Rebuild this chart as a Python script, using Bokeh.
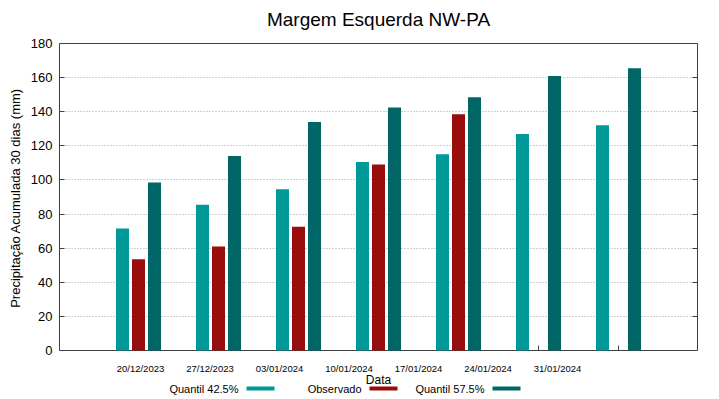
from bokeh.plotting import figure
from bokeh.models import (ColumnDataSource, Range1d, LinearAxis, FixedTicker,
                          Label, BoxAnnotation, CustomLabelingPolicy)
from bokeh.transform import dodge
from bokeh.embed import file_html
from bokeh.resources import INLINE

# ---- data ----
title_text = "Margem Esquerda NW-PA"
dates = ["20/12/2023", "27/12/2023", "03/01/2024", "10/01/2024",
         "17/01/2024", "24/01/2024", "31/01/2024"]
quantil_425 = [71.5, 85.5, 94.5, 110.5, 115.0, 127.0, 132.0]
observado = [53.5, 61.0, 72.5, 109.0, 138.5, float("nan"), float("nan")]
quantil_575 = [98.5, 114.0, 134.0, 142.5, 148.5, 161.0, 165.5]
series_names = ["Quantil 42.5%", "Observado", "Quantil 57.5%"]
colors = ["#009999", "#990d0d", "#006666"]
y_ticks = list(range(0, 181, 20))

FONT = "Liberation Sans"
AX = "#404040"
idx = list(range(len(dates)))
src = ColumnDataSource(dict(idx=idx, q425=quantil_425, obs=observado, q575=quantil_575))

# The frame covers the whole canvas height; the 0..180 data box sits inside it,
# with title above and tick labels / axis title / legend below.
FH = 395
p = figure(frame_width=638, frame_height=FH,
           min_border_left=59, min_border_right=6,
           min_border_top=0, min_border_bottom=0,
           x_range=Range1d(-0.9875, 6.9875), y_range=Range1d(-26.38, 205.21),
           output_backend="svg", toolbar_location=None)
p.extra_x_ranges = {"lab": Range1d(-1.165, 8.014)}

p.outline_line_color = None
p.xgrid.grid_line_color = None
p.ygrid.grid_line_color = "#a0a0a0"
p.ygrid.grid_line_dash = "1 2"
p.ygrid.ticker = FixedTicker(ticks=y_ticks[1:-1])


def no_labels():
    return CustomLabelingPolicy(code="for (const i of indices) { if (false) yield i }")


xa = p.below[0]   # default x axis
ya = p.left[0]    # default y axis

# left y axis
ya.ticker = FixedTicker(ticks=y_ticks)
ya.bounds = (0, 180)
ya.axis_line_color = AX
ya.major_tick_in = 5
ya.major_tick_out = 0
ya.minor_tick_line_color = None
ya.major_tick_line_color = AX
ya.major_label_standoff = 7
ya.major_label_text_font = FONT
ya.major_label_text_font_size = "13px"
ya.major_label_text_color = "black"
ya.axis_label = "Precipitação Acumulada 30 dias (mm)"
ya.axis_label_text_font = FONT
ya.axis_label_text_font_size = "13px"
ya.axis_label_text_font_style = "normal"
ya.axis_label_text_color = "black"
ya.axis_label_standoff = 5

# right y axis (mirror ticks)
yr = LinearAxis(ticker=FixedTicker(ticks=y_ticks), bounds=(0, 180),
                major_label_policy=no_labels())
yr.axis_line_color = AX
yr.major_tick_in = 5
yr.major_tick_out = 0
yr.minor_tick_line_color = None
yr.major_tick_line_color = AX
yr.major_label_standoff = 0
yr.major_label_text_font_size = "0px"
p.add_layout(yr, "right")

# top border line at y=180
xt = LinearAxis(ticker=FixedTicker(ticks=[]), major_label_policy=no_labels(),
                fixed_location=180)
xt.axis_line_color = AX
xt.major_tick_in = 0
xt.major_tick_out = 0
xt.minor_tick_line_color = None
xt.major_label_standoff = 0
xt.major_label_text_font_size = "0px"
p.add_layout(xt, "above")

# main x axis at y=0: ticks only at group centers
xa.fixed_location = 0
xa.ticker = FixedTicker(ticks=idx)
xa.major_label_policy = no_labels()
xa.major_label_text_font_size = "0px"
xa.axis_line_color = AX
xa.major_tick_in = 5
xa.major_tick_out = 0
xa.minor_tick_line_color = None
xa.major_tick_line_color = AX
xa.major_label_standoff = 0

# date label axis (gnuplot-like offset labels)
xl = LinearAxis(x_range_name="lab", ticker=FixedTicker(ticks=idx), fixed_location=0,
                major_label_overrides={i: d for i, d in enumerate(dates)})
xl.axis_line_color = None
xl.major_tick_in = 0
xl.major_tick_out = 0
xl.minor_tick_line_color = None
xl.major_label_standoff = 12
xl.major_label_text_font = FONT
xl.major_label_text_font_size = "9.5px"
xl.major_label_text_color = "black"
xl.axis_label = "Data"
xl.axis_label_text_font = FONT
xl.axis_label_text_font_size = "12px"
xl.axis_label_text_font_style = "normal"
xl.axis_label_text_color = "black"
xl.axis_label_standoff = -4
p.add_layout(xl, "below")

# bars
w = 0.1625
for col, off, c in zip(["q425", "obs", "q575"], [-0.2, 0.0, 0.2], colors):
    r = p.vbar(x=dodge("idx", off, range=p.x_range), top=col, width=w, bottom=0,
               source=src, fill_color=c, line_color=None)
    r.level = "overlay"

# title
p.add_layout(Label(x=319, y=FH - 19, x_units="screen", y_units="screen",
                   text=title_text, text_align="center", text_baseline="middle",
                   text_font=FONT, text_font_size="19px", text_color="black"))

# legend (text then swatch, gnuplot style), screen units from frame bottom-left
text_right = [179, 302, 425]
for name, c, xr in zip(series_names, colors, text_right):
    p.add_layout(Label(x=xr, y=7, x_units="screen", y_units="screen", text=name,
                       text_align="right", text_baseline="middle",
                       text_font=FONT, text_font_size="11px", text_color="black"))
    p.add_layout(BoxAnnotation(left=xr + 8, right=xr + 36, bottom=5, top=9,
                               left_units="screen", right_units="screen",
                               bottom_units="screen", top_units="screen",
                               fill_color=c, fill_alpha=1.0, line_color=None))

open("out.html", "w").write(file_html(p, INLINE))
